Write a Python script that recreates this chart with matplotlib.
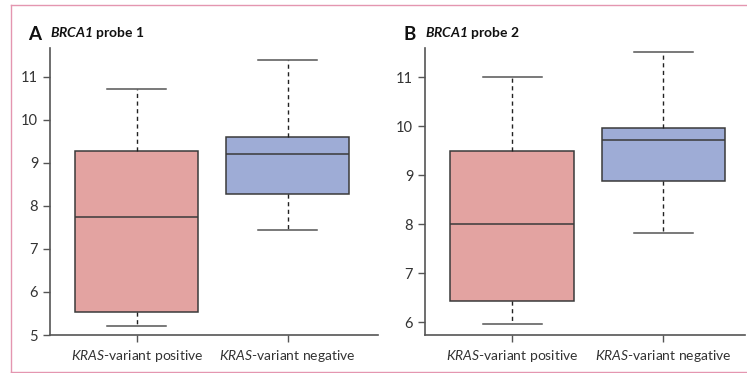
import matplotlib

matplotlib.use("Agg")
import matplotlib.pyplot as plt
from matplotlib.lines import Line2D

plt.rcParams["font.family"] = ["Lato", "DejaVu Sans"]
plt.rcParams["mathtext.fontset"] = "custom"
plt.rcParams["mathtext.it"] = "Lato:italic"
plt.rcParams["mathtext.rm"] = "Lato"
plt.rcParams["mathtext.bf"] = "Lato:bold"
plt.rcParams["mathtext.bfit"] = "Lato:bold:italic"

groups = [r"$\mathit{KRAS}$-variant positive", r"$\mathit{KRAS}$-variant negative"]
colors = ["#e3a3a1", "#9eacd6"]

# whisker low, Q1, median, Q3, whisker high
probe1_low = [5.20, 7.43]
probe1_q1 = [5.53, 8.27]
probe1_med = [7.75, 9.21]
probe1_q3 = [9.28, 9.60]
probe1_high = [10.72, 11.40]

probe2_low = [5.97, 7.83]
probe2_q1 = [6.43, 8.88]
probe2_med = [8.00, 9.72]
probe2_q3 = [9.50, 9.97]
probe2_high = [11.00, 11.52]

W, H = 747, 373
fig = plt.figure(figsize=(W / 100, H / 100), dpi=100)
edge = "#3a3a3a"
pink = "#e496b0"

# frame
fig.add_artist(Line2D([11 / W, 11 / W], [1 - 5 / H, 1 - 372 / H], color=pink, lw=1.0))
fig.add_artist(Line2D([11 / W, 1], [1 - 5 / H, 1 - 5 / H], color=pink, lw=1.0))
fig.add_artist(Line2D([11 / W, 1], [1 - 372 / H, 1 - 372 / H], color=pink, lw=1.0))


def panel(x0, x1, ylim, xlim, yticks, low, q1, med, q3, high, letter, num):
    ax = fig.add_axes([x0 / W, 1 - 335 / H, (x1 - x0) / W, (335 - 48) / H])
    stats = []
    for i in range(2):
        stats.append(dict(whislo=low[i], q1=q1[i], med=med[i], q3=q3[i], whishi=high[i], fliers=[]))
    b = ax.bxp(stats, positions=[1, 2], widths=0.815, patch_artist=True, capwidths=0.39,
               boxprops=dict(edgecolor=edge, linewidth=1.1),
               medianprops=dict(color=edge, linewidth=1.1),
               whiskerprops=dict(color="#222222", linewidth=1.0, linestyle=(0, (3, 2.5))),
               capprops=dict(color="#555555", linewidth=1.1))
    for p, c in zip(b["boxes"], colors):
        p.set_facecolor(c)
    ax.set_xlim(*xlim)
    ax.set_ylim(*ylim)
    ax.set_yticks(yticks)
    ax.set_xticks([1, 2])
    ax.set_xticklabels(groups)
    for s in ["top", "right"]:
        ax.spines[s].set_visible(False)
    for s in ["left", "bottom"]:
        ax.spines[s].set_color("#555555")
        ax.spines[s].set_linewidth(1.2)
    ax.tick_params(colors="#555555", labelcolor="#333333", labelsize=10.5, length=5, width=1.0)
    ax.tick_params(axis="x", pad=4, labelsize=10)
    fig.text((x0 - 22) / W, 1 - 34 / H, letter, fontsize=13.5, fontweight="bold",
             color="#111111", va="center")
    fig.text((x0) / W, 1 - 33 / H, r"$\mathbfit{BRCA1}$ probe " + num, fontsize=10,
             fontweight="bold", color="#111111", va="center")
    return ax


panel(50, 378, (5, 11.67), (0.424, 2.6), [5, 6, 7, 8, 9, 10, 11],
      probe1_low, probe1_q1, probe1_med, probe1_q3, probe1_high, "A", "1")
panel(425, 745, (5.74, 11.6), (0.424, 2.54), [6, 7, 8, 9, 10, 11],
      probe2_low, probe2_q1, probe2_med, probe2_q3, probe2_high, "B", "2")

fig.savefig("out.png", dpi=100)
